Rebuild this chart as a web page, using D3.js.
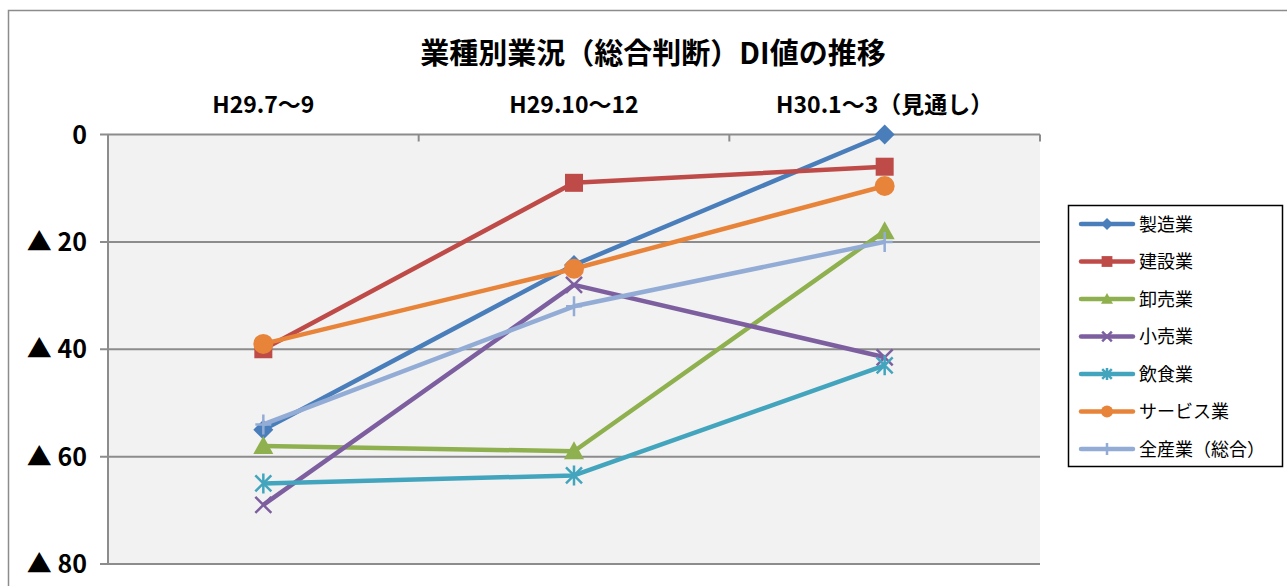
<!DOCTYPE html>
<html lang="ja">
<head>
<meta charset="UTF-8">
<title>業種別業況（総合判断）DI値の推移</title>
<style>
  body { margin: 0; padding: 0; background: #fff; }
  svg { display: block; font-family: "Noto Sans CJK JP", "Noto Sans", sans-serif; }
</style>
</head>
<body>
<svg width="1287" height="586"></svg>
<script src="https://d3js.org/d3.v7.min.js"></script>
<script>
// data (DI values, shown as ▲ = negative)
const categories = ["H29.7～9", "H29.10～12", "H30.1～3（見通し）"];
const seriesNames = ["製造業", "建設業", "卸売業", "小売業", "飲食業", "サービス業", "全産業（総合）"];
const manufacturing = [55, 24.3, 0];
const construction = [40, 9, 6];
const wholesale = [58, 59, 18];
const retail = [69, 28, 41.5];
const restaurant = [65, 63.5, 43];
const services = [39, 25, 9.6];
const allIndustries = [54, 32, 20];
const yTicks = [0, 20, 40, 60, 80];

const seriesValues = [manufacturing, construction, wholesale, retail, restaurant, services, allIndustries];
const colors = ["#4a7ebb", "#be4b48", "#8fb04e", "#7d5fa0", "#43a5bd", "#e8843a", "#93acd6"];
const markers = ["diamond", "square", "triangle", "x", "star", "circle", "plus"];

const svg = d3.select("svg");

// chart frame
svg.append("path")
  .attr("d", "M8.5,586 V10.5 H1287")
  .attr("fill", "none").attr("stroke", "#8c8c8c").attr("stroke-width", 1.5);

const plot = { left: 108, right: 1040, top: 134.5, bottom: 564 };

const x = d3.scaleBand().domain(categories).range([plot.left, plot.right]).padding(0);
const y = d3.scaleLinear().domain([0, 80]).range([plot.top, plot.bottom]);
const cx = c => x(c) + x.bandwidth() / 2;

// plot background
svg.append("rect")
  .attr("x", plot.left).attr("y", plot.top)
  .attr("width", plot.right - plot.left).attr("height", plot.bottom - plot.top)
  .attr("fill", "#f2f2f2");

// horizontal gridlines + y ticks
svg.append("g").selectAll("line").data(yTicks).join("line")
  .attr("x1", plot.left - 8).attr("x2", plot.right)
  .attr("y1", d => y(d)).attr("y2", d => y(d))
  .attr("stroke", "#8c8c8c").attr("stroke-width", 2);

svg.append("line")
  .attr("x1", plot.left).attr("x2", plot.left)
  .attr("y1", plot.top).attr("y2", plot.bottom)
  .attr("stroke", "#8c8c8c").attr("stroke-width", 2);

svg.append("g").selectAll("text").data(yTicks).join("text")
  .attr("x", 87).attr("y", d => y(d) + 9)
  .attr("text-anchor", "end")
  .attr("font-size", 25).attr("font-weight", "bold").attr("fill", "#000")
  .text(d => d === 0 ? "0" : "▲ " + d);

// category ticks on top axis
const bounds = categories.map(c => x(c)).concat([plot.right]);
svg.append("g").selectAll("line").data(bounds).join("line")
  .attr("x1", d => d).attr("x2", d => d)
  .attr("y1", plot.top).attr("y2", plot.top + 7)
  .attr("stroke", "#8c8c8c").attr("stroke-width", 2);

svg.append("g").selectAll("text").data(categories).join("text")
  .attr("x", d => cx(d)).attr("y", 113)
  .attr("text-anchor", "middle")
  .attr("font-size", 23).attr("font-weight", "bold").attr("fill", "#000")
  .text(d => d);

// title
svg.append("text")
  .attr("x", 653).attr("y", 64)
  .attr("text-anchor", "middle")
  .attr("font-size", 29).attr("font-weight", "bold").attr("fill", "#000")
  .text("業種別業況（総合判断）DI値の推移");

// marker drawing
function drawMarker(g, type, color, s) {
  if (type === "diamond") {
    g.append("path").attr("d", `M0,${-s} L${s},0 L0,${s} L${-s},0Z`).attr("fill", color);
  } else if (type === "square") {
    g.append("rect").attr("x", -s * 0.9).attr("y", -s * 0.9).attr("width", s * 1.8).attr("height", s * 1.8).attr("fill", color);
  } else if (type === "triangle") {
    g.append("path").attr("d", `M0,${-s} L${s},${s * 0.8} L${-s},${s * 0.8}Z`).attr("fill", color);
  } else if (type === "circle") {
    g.append("circle").attr("r", s).attr("fill", color);
  } else if (type === "x") {
    g.append("path").attr("d", `M${-s * 0.8},${-s * 0.8} L${s * 0.8},${s * 0.8} M${-s * 0.8},${s * 0.8} L${s * 0.8},${-s * 0.8}`)
      .attr("stroke", color).attr("stroke-width", 2.5);
  } else if (type === "star") {
    g.append("path").attr("d", `M${-s * 0.8},${-s * 0.8} L${s * 0.8},${s * 0.8} M${-s * 0.8},${s * 0.8} L${s * 0.8},${-s * 0.8} M0,${-s} L0,${s}`)
      .attr("stroke", color).attr("stroke-width", 2.5);
  } else if (type === "plus") {
    g.append("path").attr("d", `M0,${-s} L0,${s} M${-s * 0.8},0 L${s * 0.8},0`)
      .attr("stroke", color).attr("stroke-width", 2.5);
  }
}

// series lines
const line = d3.line().x((d, i) => cx(categories[i])).y(d => y(d));
const series = svg.append("g").selectAll("g").data(seriesValues).join("g");

series.append("path")
  .attr("d", d => line(d))
  .attr("fill", "none")
  .attr("stroke", (d, i) => colors[i])
  .attr("stroke-width", 4.5)
  .attr("stroke-linejoin", "round");

series.each(function (vals, si) {
  const grp = d3.select(this);
  vals.forEach((v, i) => {
    const m = grp.append("g").attr("transform", `translate(${cx(categories[i])},${y(v)})`);
    drawMarker(m, markers[si], colors[si], 10);
  });
});

// legend
const legend = svg.append("g");
legend.append("rect")
  .attr("x", 1068.5).attr("y", 205.5).attr("width", 214).attr("height", 261)
  .attr("fill", "#fff").attr("stroke", "#000").attr("stroke-width", 1.5);

const legendY = d3.scalePoint().domain(seriesNames).range([224, 449]);
const items = legend.selectAll("g.item").data(seriesNames).join("g")
  .attr("class", "item")
  .attr("transform", d => `translate(0,${legendY(d)})`);

items.append("line")
  .attr("x1", 1081).attr("x2", 1133)
  .attr("stroke", (d, i) => colors[i]).attr("stroke-width", 4.5).attr("stroke-linecap", "round");

items.each(function (d, i) {
  const m = d3.select(this).append("g").attr("transform", "translate(1107,0)");
  drawMarker(m, markers[i], colors[i], 6);
});

items.append("text")
  .attr("x", 1139).attr("y", 6.5)
  .attr("font-size", 18).attr("fill", "#000")
  .text(d => d);
</script>
</body>
</html>
